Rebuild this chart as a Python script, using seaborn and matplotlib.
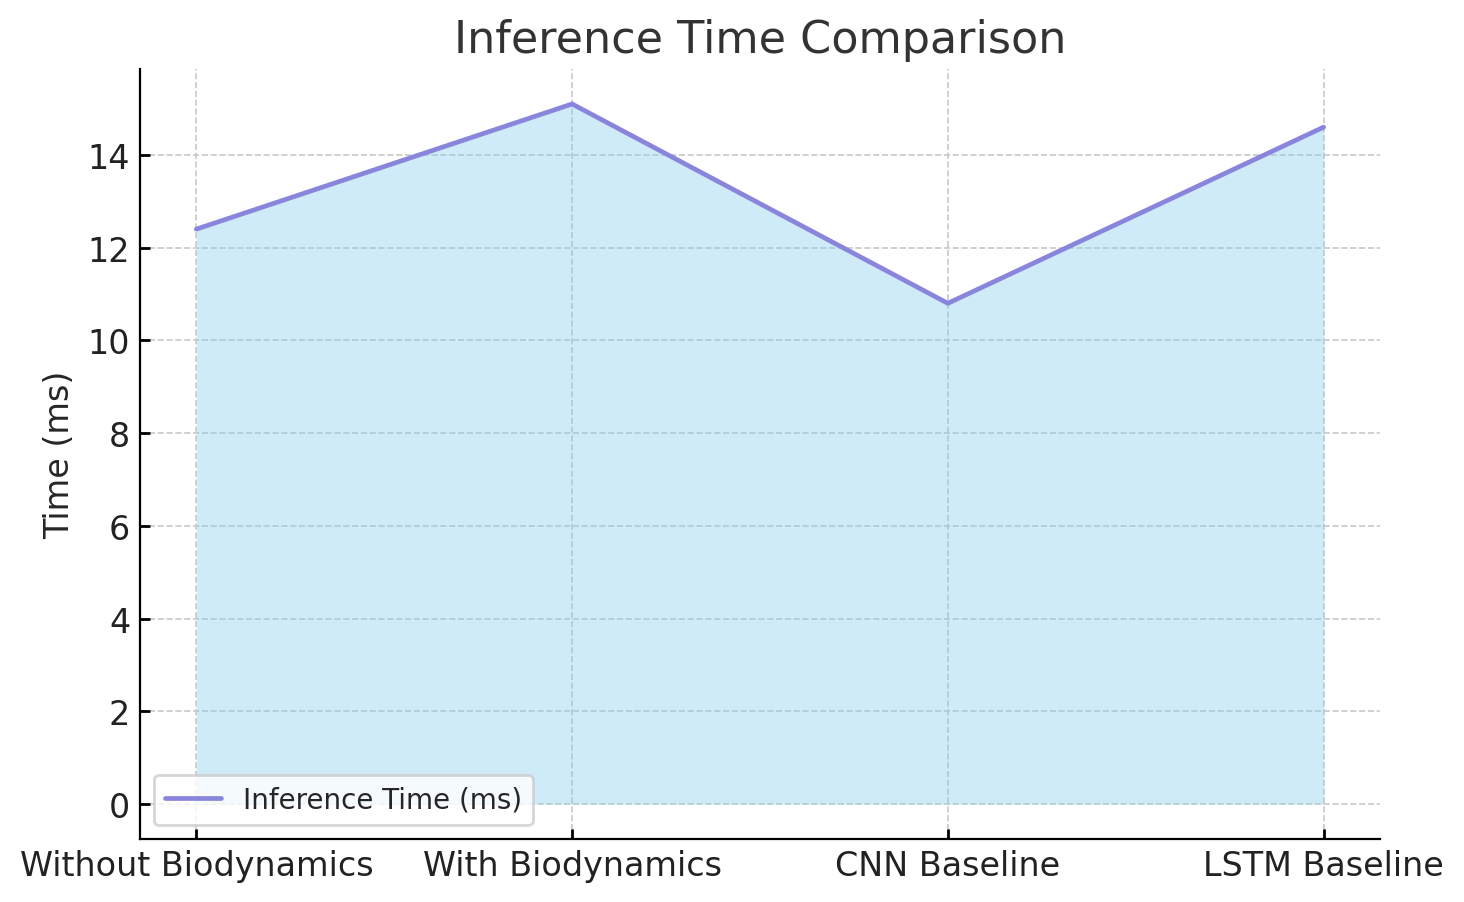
import pandas as pd
import seaborn as sns
import matplotlib.pyplot as plt

# Data
models = ["Without Biodynamics", "With Biodynamics", "CNN Baseline", "LSTM Baseline"]
inference_ms = [12.4, 15.1, 10.8, 14.6]

df = pd.DataFrame({"Model": models, "Time": inference_ms})

sns.set_style("ticks")
plt.rcParams["font.family"] = ["DejaVu Sans"]

fig, ax = plt.subplots(figsize=(7.32, 4.515), dpi=200)

sns.lineplot(data=df, x="Model", y="Time", ax=ax, color="#8a85dc", lw=1.7,
             label="Inference Time (ms)", sort=False)
ax.fill_between(range(len(df)), df["Time"], color="skyblue", alpha=0.4, lw=0)
ax.margins(x=0.05, y=0.05)
ax.autoscale_view()

ax.set_title("Inference Time Comparison", fontsize=16, color="#333333")
ax.set_xlabel("")
ax.set_ylabel("Time (ms)", fontsize=12)
ax.tick_params(labelsize=12, labelcolor="#222222", direction="in", length=3.5,
               width=1, color="black")
ax.grid(True, linestyle="--", color="#c8c8c8", lw=0.6)
sns.despine()
for s in ["left", "bottom"]:
    ax.spines[s].set_color("black")
ax.legend(loc="lower left", fontsize=10)

fig.subplots_adjust(left=0.0956, right=0.9426, top=0.9225, bottom=0.0698)
plt.savefig("out.png", dpi=200)
